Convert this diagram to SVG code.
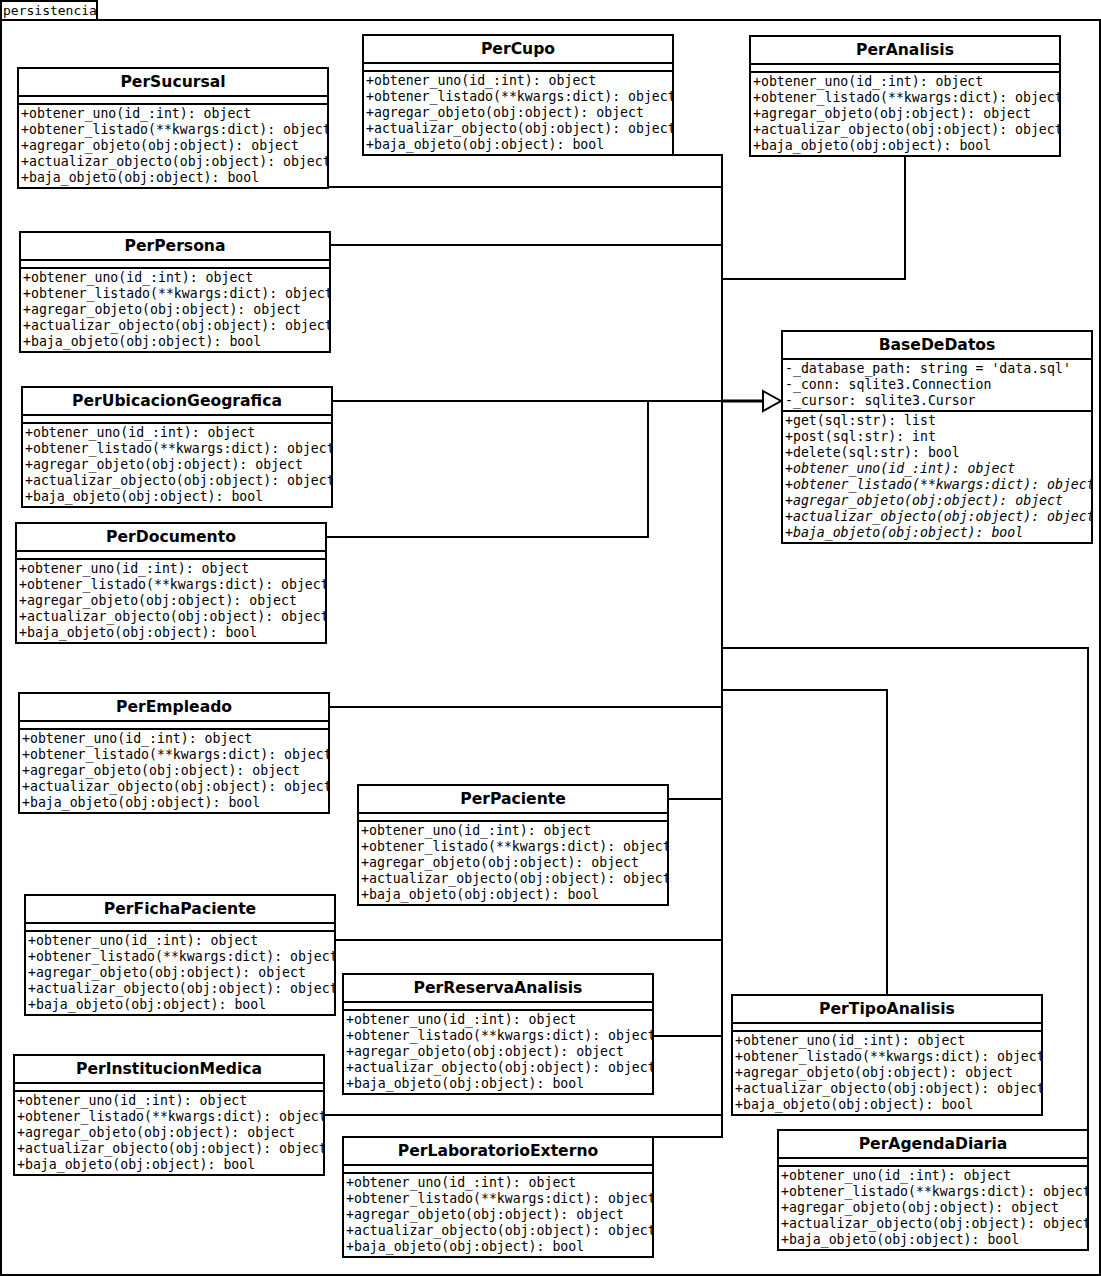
<svg xmlns="http://www.w3.org/2000/svg" xmlns:xlink="http://www.w3.org/1999/xlink" width="1101" height="1276" viewBox="0 0 1101 1276">
<style>
.box{fill:#fff;stroke:#000;stroke-width:2}
.sep{stroke:#000;stroke-width:2}
.title{font-family:"DejaVu Sans",sans-serif;font-weight:bold;font-size:15.6px;text-anchor:middle;fill:#000}
.m{font-family:"DejaVu Sans Mono",monospace;font-size:13.2px;fill:#000}
.i{font-style:italic}
.c{fill:none;stroke:#000;stroke-width:2}
</style>
<defs>
<symbol id="std" viewBox="0 0 310 120" width="310" height="120">
<text class="m" x="3" y="50">+obtener_uno(id_:int): object</text>
<text class="m" x="3" y="66">+obtener_listado(**kwargs:dict): object</text>
<text class="m" x="3" y="82">+agregar_objeto(obj:object): object</text>
<text class="m" x="3" y="98">+actualizar_objecto(obj:object): object</text>
<text class="m" x="3" y="114">+baja_objeto(obj:object): bool</text>
</symbol>
<g id="frame">
<rect class="box" x="0" y="0" width="310" height="120"/>
<line class="sep" x1="0" y1="28" x2="310" y2="28"/>
<line class="sep" x1="0" y1="36" x2="310" y2="36"/>
</g>
</defs>
<rect x="0" y="0" width="1101" height="1276" fill="#fff"/>
<g id="persistencia">
<rect class="box" x="1" y="1" width="96" height="19"/>
<rect class="box" x="1" y="20" width="1099" height="1255"/>
<text class="m" x="3" y="15" style="font-size:13px">persistencia</text>
</g>
<g id="connectors">
<polyline class="c" points="673,155 722,155 722,1137 653,1137"/>
<line class="c" x1="328" y1="187" x2="722" y2="187"/>
<polyline class="c" points="905,156 905,279 722,279"/>
<line class="c" x1="330" y1="245" x2="722" y2="245"/>
<line class="c" x1="332" y1="401" x2="764" y2="401"/>
<line x1="722" y1="401" x2="764" y2="401" stroke="#000" stroke-width="3"/>
<polyline class="c" points="326,537 648,537 648,401"/>
<line class="c" x1="329" y1="707" x2="722" y2="707"/>
<line class="c" x1="668" y1="799" x2="722" y2="799"/>
<line class="c" x1="335" y1="940" x2="722" y2="940"/>
<line class="c" x1="653" y1="1036" x2="722" y2="1036"/>
<line class="c" x1="324" y1="1115" x2="722" y2="1115"/>
<polyline class="c" points="887,995 887,690 722,690"/>
<polyline class="c" points="1088,1130 1088,648 722,648"/>
<polygon points="763,391 781,401 763,411" fill="#fff" stroke="#000" stroke-width="2"/>
</g>
<g id="PerSucursal"><use xlink:href="#frame" x="18" y="68"/><text class="title" x="173" y="87">PerSucursal</text><use xlink:href="#std" x="18" y="68"/></g>
<g id="PerCupo"><use xlink:href="#frame" x="363" y="35"/><text class="title" x="518" y="54">PerCupo</text><use xlink:href="#std" x="363" y="35"/></g>
<g id="PerAnalisis"><use xlink:href="#frame" x="750" y="36"/><text class="title" x="905" y="55">PerAnalisis</text><use xlink:href="#std" x="750" y="36"/></g>
<g id="PerPersona"><use xlink:href="#frame" x="20" y="232"/><text class="title" x="175" y="251">PerPersona</text><use xlink:href="#std" x="20" y="232"/></g>
<g id="PerUbicacionGeografica"><use xlink:href="#frame" x="22" y="387"/><text class="title" x="177" y="406">PerUbicacionGeografica</text><use xlink:href="#std" x="22" y="387"/></g>
<g id="PerDocumento"><use xlink:href="#frame" x="16" y="523"/><text class="title" x="171" y="542">PerDocumento</text><use xlink:href="#std" x="16" y="523"/></g>
<g id="PerEmpleado"><use xlink:href="#frame" x="19" y="693"/><text class="title" x="174" y="712">PerEmpleado</text><use xlink:href="#std" x="19" y="693"/></g>
<g id="PerPaciente"><use xlink:href="#frame" x="358" y="785"/><text class="title" x="513" y="804">PerPaciente</text><use xlink:href="#std" x="358" y="785"/></g>
<g id="PerFichaPaciente"><use xlink:href="#frame" x="25" y="895"/><text class="title" x="180" y="914">PerFichaPaciente</text><use xlink:href="#std" x="25" y="895"/></g>
<g id="PerReservaAnalisis"><use xlink:href="#frame" x="343" y="974"/><text class="title" x="498" y="993">PerReservaAnalisis</text><use xlink:href="#std" x="343" y="974"/></g>
<g id="PerInstitucionMedica"><use xlink:href="#frame" x="14" y="1055"/><text class="title" x="169" y="1074">PerInstitucionMedica</text><use xlink:href="#std" x="14" y="1055"/></g>
<g id="PerLaboratorioExterno"><use xlink:href="#frame" x="343" y="1137"/><text class="title" x="498" y="1156">PerLaboratorioExterno</text><use xlink:href="#std" x="343" y="1137"/></g>
<g id="PerTipoAnalisis"><use xlink:href="#frame" x="732" y="995"/><text class="title" x="887" y="1014">PerTipoAnalisis</text><use xlink:href="#std" x="732" y="995"/></g>
<g id="PerAgendaDiaria"><use xlink:href="#frame" x="778" y="1130"/><text class="title" x="933" y="1149">PerAgendaDiaria</text><use xlink:href="#std" x="778" y="1130"/></g>
<g id="BaseDeDatos">
<rect class="box" x="782" y="331" width="310" height="212"/>
<line class="sep" x1="782" y1="359" x2="1092" y2="359"/>
<line class="sep" x1="782" y1="411" x2="1092" y2="411"/>
<text class="title" x="937" y="350">BaseDeDatos</text>
<svg x="782" y="331" width="310" height="212" overflow="hidden">
<text class="m" x="3" y="42">-_database_path: string = 'data.sql'</text>
<text class="m" x="3" y="58">-_conn: sqlite3.Connection</text>
<text class="m" x="3" y="74">-_cursor: sqlite3.Cursor</text>
<text class="m" x="3" y="94">+get(sql:str): list</text>
<text class="m" x="3" y="110">+post(sql:str): int</text>
<text class="m" x="3" y="126">+delete(sql:str): bool</text>
<text class="m i" x="3" y="142">+obtener_uno(id_:int): object</text>
<text class="m i" x="3" y="158">+obtener_listado(**kwargs:dict): object</text>
<text class="m i" x="3" y="174">+agregar_objeto(obj:object): object</text>
<text class="m i" x="3" y="190">+actualizar_objecto(obj:object): object</text>
<text class="m i" x="3" y="206">+baja_objeto(obj:object): bool</text>
</svg>
</g>
</svg>
